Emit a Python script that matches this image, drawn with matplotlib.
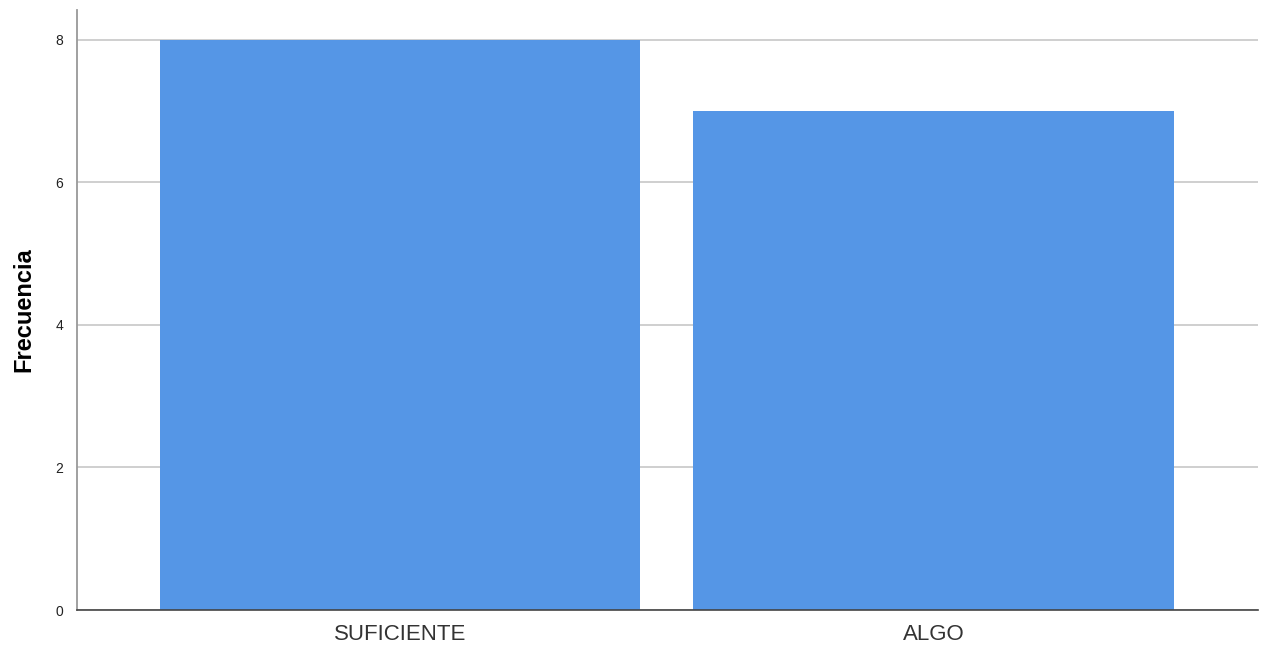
import matplotlib
matplotlib.use("Agg")
import matplotlib.pyplot as plt

categories = ["SUFICIENTE", "ALGO"]
values = [8, 7]
yticks = [0, 2, 4, 6, 8]

plt.rcParams['font.family'] = ['Liberation Sans', 'DejaVu Sans']

fig = plt.figure(figsize=(12.67, 6.47), dpi=100)
W, H = 1267, 647
ax = fig.add_axes([77 / W, 1 - 610 / H, (1258 - 77) / W, (610 - 10) / H])

x = list(range(len(categories)))
ax.bar(x, values, width=0.9, color="#5596E6", zorder=3)
ax.set_xlim(-0.605, 1.608)
ax.set_ylim(0, 8.42)
ax.set_yticks(yticks)
ax.set_yticklabels([str(t) for t in yticks], fontsize=10, color="#222222")
ax.set_xticks(x)
ax.set_xticklabels(categories, fontsize=16, color="#333333")
ax.tick_params(axis='x', length=0, pad=10)
ax.tick_params(axis='y', length=0, pad=10)
ax.grid(axis='y', color="#cccccc", linewidth=1.3, zorder=0)
for s in ["top", "right"]:
    ax.spines[s].set_visible(False)
ax.spines["left"].set_color("#999999")
ax.spines["left"].set_linewidth(1.3)
ax.spines["bottom"].set_color("#444444")
ax.spines["bottom"].set_linewidth(1.2)
ax.spines["bottom"].set_zorder(4)
ax.set_ylabel("Frecuencia", fontsize=17, fontweight="bold", labelpad=14)

fig.savefig("out.png", dpi=100)
